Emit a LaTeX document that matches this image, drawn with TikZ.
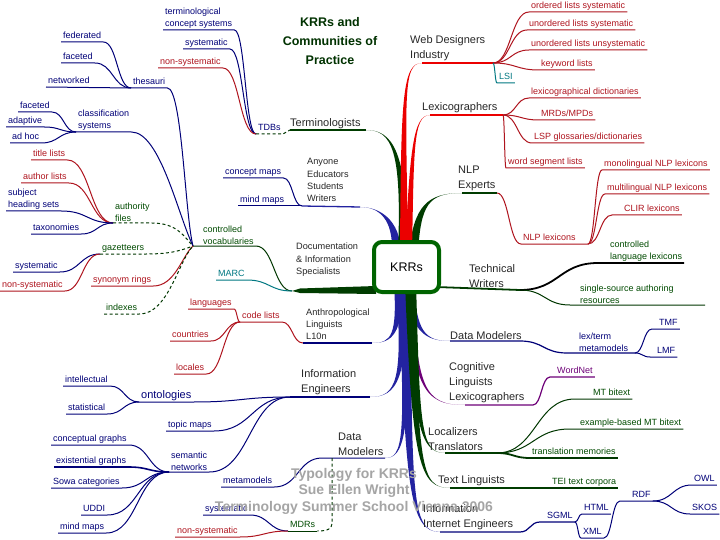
\documentclass[tikz,border=0pt]{standalone}
\usepackage{fontspec}
\setmainfont{Liberation Sans}
\usetikzlibrary{calc}
\definecolor{navyc}{RGB}{0,0,120}
\definecolor{redc}{RGB}{175,20,30}
\definecolor{greenc}{RGB}{0,75,0}
\definecolor{greenD}{RGB}{0,55,0}
\definecolor{trunkblue}{RGB}{35,35,160}
\definecolor{trunkred}{RGB}{235,0,0}
\definecolor{trunkgreen}{RGB}{0,60,0}
\definecolor{boxgreen}{RGB}{0,100,0}
\definecolor{tealc}{RGB}{0,120,130}
\definecolor{purplec}{RGB}{110,0,120}
\definecolor{txtgray}{RGB}{40,40,40}
\definecolor{titlec}{RGB}{0,50,0}
\definecolor{wmc}{RGB}{165,165,165}
\newcommand{\taperb}[7]{\fill[#1] (#2) .. controls (#3) and (#4) .. (#5) .. controls (#4) and ($(#3)+(#7)$) .. ($(#2)+(#6)$) -- cycle;}
\tikzset{
  lb/.style={anchor=south west, inner xsep=2pt, inner ysep=1.2pt, font=\fontsize{9}{12.5}\selectfont, text depth=2pt},
  mlb/.style={anchor=south west, inner xsep=2pt, inner ysep=1.2pt, font=\fontsize{9}{12.5}\selectfont, align=left},
  bg/.style={anchor=south west, inner xsep=0pt, inner ysep=1.5pt, font=\fontsize{11}{15}\selectfont, text=txtgray, align=left},
  md/.style={inner sep=0pt, font=\fontsize{9.2}{12.3}\selectfont, text=txtgray, align=left},
  nl/.style={draw=navyc, line width=1pt},
  rl/.style={draw=redc, line width=1pt},
  gl/.style={draw=greenD, line width=1pt},
  dl/.style={draw=greenD, line width=1pt, dash pattern=on 3pt off 2.5pt},
  sc/.style={to path={let \p1=(\tikztostart), \p2=(\tikztotarget) in .. controls ({0.5*\x1+0.5*\x2},\y1) and ({0.5*\x1+0.5*\x2},\y2) .. (\tikztotarget) \tikztonodes}},
}
\begin{document}
\begin{tikzpicture}[x=1pt,y=-1pt]
\fill[white] (0,0) rectangle (720,540);
\useasboundingbox (0,0) rectangle (720,540);
% trunk end coordinates
\coordinate (webE) at (422,63);
\coordinate (lexE) at (430,115);
\coordinate (nlpE) at (462,193);
\coordinate (termE) at (366,130);
\coordinate (anyE) at (360,207);
\coordinate (anthE) at (372,343);
\coordinate (ieE) at (370,397);
\coordinate (dmlE) at (385,458);
\coordinate (dmrE) at (450,341);
\coordinate (cogE) at (465,405);
\coordinate (loczE) at (445,453);
\coordinate (tlE) at (450,488);
\coordinate (iieE) at (440,532);
% junctions
\coordinate (cvj) at (193,246);
\coordinate (docj) at (292,291);
\coordinate (anyj) at (302,206);
\coordinate (anthj) at (303,343);
\coordinate (iej) at (290,397);
\coordinate (dmlj) at (322,458);
\coordinate (mdrtop) at (332,458);
\coordinate (webJ) at (493,63);
\coordinate (lexJ) at (503,115);
\coordinate (nlpJ) at (497,193);
\coordinate (nlplJ) at (588,244);
\coordinate (clirL) at (612,215);
\coordinate (twS) at (436,287);
\coordinate (twJ) at (520,290);
\coordinate (cllL) at (598,263);
\coordinate (cllE) at (684,263);
\coordinate (ssaL) at (570,305);
\coordinate (ssaE) at (705,305);
\coordinate (dmrJ) at (520,341);
\coordinate (ltL) at (567,353);
\coordinate (ltE) at (635,353);
\coordinate (tmfL) at (652,329);
\coordinate (lmfL) at (650,357);
\coordinate (cogJ) at (533,405);
\coordinate (wnL) at (550,377);
\coordinate (loczJ) at (497,453);
\coordinate (mtbL) at (575,399);
\coordinate (ebmL) at (570,429);
\coordinate (tlJ) at (540,488);
\coordinate (iieJ) at (520,532);
\coordinate (sgmlL) at (540,522);
\coordinate (rdfL) at (620,501);
% trunk
\taperb{trunkblue}{392,252}{393,220}{380,207}{anyE}{9,0}{7,0}
\taperb{trunkgreen}{398,252}{402,150}{392,130}{termE}{9,0}{6,0}
\taperb{trunkgreen}{409,252}{414,205}{428,193}{nlpE}{9,0}{7,0}
\taperb{trunkred}{400,252}{401,100}{402,63}{webE}{8,0}{5,0}
\taperb{trunkred}{405,252}{410,150}{413,115}{lexE}{7,0}{4,0}
\taperb{trunkblue}{399,282}{405,490}{410,532}{iieE}{11,0}{8,0}
\taperb{trunkblue}{398,282}{406,440}{403,458}{dmlE}{9,0}{6,0}
\taperb{trunkblue}{396,282}{403,380}{397,397}{ieE}{9,0}{6,0}
\taperb{trunkblue}{394,282}{397,335}{392,343}{anthE}{9,0}{6,0}
\taperb{trunkblue}{405,282}{410,332}{425,341}{dmrE}{9,0}{6,0}
\taperb{purplec}{407,282}{412,390}{425,405}{cogE}{6,0}{4,0}
\taperb{trunkgreen}{405,282}{412,465}{420,488}{tlE}{9,0}{7,0}
\taperb{trunkgreen}{407,282}{413,425}{420,453}{loczE}{9,0}{7,0}
\fill[trunkgreen] (376,286) -- (300,288.5) -- (docj) -- (300,293) -- (376,294) -- cycle;
\draw[draw=trunkgreen, line width=1.8pt] (twS) -- (twJ);
% central box
\node[draw=boxgreen, line width=4pt, rounded corners=8pt, fill=white, minimum width=65pt, minimum height=50pt, font=\fontsize{12.5}{15}\selectfont, text=black] (krr) at (406.5,267) {KRRs};
% ---------- labels left
\node[mlb,text=navyc] (tcs) at (163,30) {terminological\\concept systems};
\node[lb,text=navyc] (sys1) at (183,49) {systematic};
\node[lb,text=redc] (nsys1) at (158,68) {non-systematic};
\node[lb,text=navyc] (tdbs) at (256,134) {TDBs};
\node[bg] (term) at (290,130) {Terminologists};
\node[lb,text=navyc] (fed) at (61,42) {federated};
\node[lb,text=navyc] (fac1) at (61,63) {faceted};
\node[lb,text=navyc] (net) at (46,87) {networked};
\node[lb,text=navyc] (thes) at (131,88) {thesauri};
\node[lb,text=navyc] (fac2) at (18,112) {faceted};
\node[lb,text=navyc] (ada) at (6,127) {adaptive};
\node[lb,text=navyc] (adh) at (10,143) {ad hoc};
\node[mlb,text=navyc] (cls) at (76,132) {classification\\systems};
\node[lb,text=redc] (til) at (31,160) {title lists};
\node[lb,text=redc] (aut) at (21,183) {author lists};
\node[mlb,text=navyc] (shs) at (6,211) {subject\\heading sets};
\node[lb,text=navyc] (tax) at (31,234) {taxonomies};
\node[mlb,text=greenc] (auth) at (113,223) {authority\\files};
\node[mlb,text=greenc] (cv) at (201,246) {controlled\\vocabularies};
\node[lb,text=greenc] (gaz) at (100,254) {gazetteers};
\node[lb,text=navyc] (sys2) at (13,272) {systematic};
\node[lb,text=redc] (nsys2) at (0,291) {non-systematic};
\node[lb,text=redc] (syn) at (91,286) {synonym rings};
\node[lb,text=greenc] (idx) at (104,314) {indexes};
\node[lb,text=tealc] (marc) at (216,280) {MARC};
\node[lb,text=navyc] (cm) at (223,178) {concept maps};
\node[lb,text=navyc] (mm1) at (238,206) {mind maps};
\node[md,anchor=south west] (any) at (307,202) {Anyone\\Educators\\Students\\Writers};
\node[md,anchor=north west] (doc) at (296,243) {Documentation\\\& Information\\Specialists};
\node[lb,text=redc] (lang) at (188,309) {languages};
\node[lb,text=redc] (ctry) at (170,341) {countries};
\node[lb,text=redc] (loc) at (174,374) {locales};
\node[lb,text=redc] (code) at (240,322) {code lists};
\node[md,anchor=south west] (anth) at (306,340) {Anthropological\\Linguists\\L10n};
\node[lb,text=navyc] (int) at (63,386) {intellectual};
\node[lb,text=navyc] (stat) at (66,414) {statistical};
\node[lb,text=navyc,font=\fontsize{11}{13}\selectfont] (ont) at (139,402) {ontologies};
\node[bg] (ie) at (301,396) {Information\\Engineers};
\node[lb,text=navyc] (top) at (166,431) {topic maps};
\node[mlb,text=navyc] (sem) at (169,472) {semantic\\networks};
\node[lb,text=navyc] (cg) at (51,445) {conceptual graphs};
\node[lb,text=navyc] (eg) at (54,467) {existential graphs};
\node[lb,text=navyc] (sowa) at (51,488) {Sowa categories};
\node[lb,text=navyc] (uddi) at (81,515) {UDDI};
\node[lb,text=navyc] (mm2) at (58,533) {mind maps};
\node[lb,text=navyc] (meta) at (221,487) {metamodels};
\node[bg] (dml) at (338,457) {Data\\Modelers};
\node[lb,text=greenc] (mdr) at (288,531) {MDRs};
\node[lb,text=navyc] (sys3) at (203,515) {systematic};
\node[lb,text=redc] (nsys3) at (175,537) {non-systematic};
% ---------- labels right
\node[bg] (web) at (410,62) {Web Designers\\Industry};
\node[lb,text=redc] (ols) at (529,12) {ordered lists systematic};
\node[lb,text=redc] (uls) at (527,30) {unordered lists systematic};
\node[lb,text=redc] (ulu) at (529,50) {unordered lists unsystematic};
\node[lb,text=redc] (kw) at (539,70) {keyword lists};
\node[lb,text=tealc] (lsi) at (497,83) {LSI};
\node[bg] (lex) at (422,114) {Lexicographers};
\node[lb,text=redc] (ld) at (529,98) {lexicographical dictionaries};
\node[lb,text=redc] (mrd) at (539,120) {MRDs/MPDs};
\node[lb,text=redc] (lsp) at (532,143) {LSP glossaries/dictionaries};
\node[lb,text=redc] (wsl) at (506,168) {word segment lists};
\node[bg] (nlp) at (458,192) {NLP\\Experts};
\node[lb,text=redc] (nlpl) at (521,244) {NLP lexicons};
\node[lb,text=redc] (mono) at (602,170) {monolingual NLP lexicons};
\node[lb,text=redc] (multi) at (605,194) {multilingual NLP lexicons};
\node[lb,text=redc] (clir) at (622,215) {CLIR lexicons};
\node[bg] (tw) at (469,289) {Technical\\Writers};
\node[mlb,text=greenc] (cll) at (608,263) {controlled\\language lexicons};
\node[mlb,text=greenc] (ssa) at (578,305) {single-source authoring\\resources};
\node[bg] (dmr) at (450,341) {Data Modelers};
\node[mlb,text=navyc] (lt) at (577,353) {lex/term\\metamodels};
\node[lb,text=navyc] (tmf) at (657,329) {TMF};
\node[lb,text=navyc] (lmf) at (655,357) {LMF};
\node[bg] (cog) at (449,404) {Cognitive\\Linguists\\Lexicographers};
\node[lb,text=purplec] (wn) at (555,377) {WordNet};
\node[bg] (locz) at (428,452) {Localizers\\Translators};
\node[lb,text=greenc] (mtb) at (591,399) {MT bitext};
\node[lb,text=greenc] (ebm) at (578,429) {example-based MT bitext};
\node[lb,text=greenc] (tm) at (530,458) {translation memories};
\node[bg] (tl) at (438,487) {Text Linguists};
\node[lb,text=greenc] (tei) at (550,488) {TEI text corpora};
\node[bg] (iie) at (423,531) {Information\\Internet Engineers};
\node[lb,text=navyc] (sgml) at (545,522) {SGML};
\node[lb,text=navyc] (html) at (582,514) {HTML};
\node[lb,text=navyc] (xml) at (581,538) {XML};
\node[lb,text=navyc] (rdf) at (630,501) {RDF};
\node[lb,text=navyc] (owl) at (692,485) {OWL};
\node[lb,text=navyc] (skos) at (690,514) {SKOS};
% ---------- connectors left
\draw[nl] (tcs.south west) -- (tcs.south east) to[sc] (tdbs.south west);
\draw[nl] (sys1.south west) -- (sys1.south east) to[sc] (tdbs.south west);
\draw[rl] (nsys1.south west) -- (nsys1.south east) to[sc] (tdbs.south west);
\draw[dl] (tdbs.south west) -- (tdbs.south east) -- (term.south west);
\draw[draw=trunkgreen, line width=1.2pt] (term.south west) -- (termE);
\draw[nl] (fed.south west) -- (fed.south east) to[sc] (thes.south west);
\draw[nl] (fac1.south west) -- (fac1.south east) to[sc] (thes.south west);
\draw[nl] (net.south west) -- (thes.south west);
\draw[nl] (thes.south west) -- (thes.south east) .. controls (182,88) and (185,215) .. (cvj);
\draw[nl] (fac2.south west) -- (fac2.south east) to[sc] (cls.south west);
\draw[nl] (ada.south west) -- (ada.south east) to[sc] (cls.south west);
\draw[nl] (adh.south west) -- (adh.south east) to[sc] (cls.south west);
\draw[nl] (cls.south west) -- (cls.south east) .. controls (160,132) and (178,215) .. (cvj);
\draw[rl] (til.south west) -- (til.south east) to[sc] (auth.south west);
\draw[rl] (aut.south west) -- (aut.south east) to[sc] (auth.south west);
\draw[nl] (shs.south west) -- (shs.south east) to[sc] (auth.south west);
\draw[nl] (tax.south west) -- (tax.south east) to[sc] (auth.south west);
\draw[dl] (auth.south west) -- (auth.south east) .. controls (178,223) and (185,238) .. (cvj);
\draw[nl] (sys2.south west) -- (sys2.south east) to[sc] (gaz.south west);
\draw[rl] (nsys2.south west) -- (nsys2.south east) to[sc] (gaz.south west);
\draw[dl] (gaz.south west) -- (gaz.south east) .. controls (172,254) and (182,250) .. (cvj);
\draw[rl] (syn.south west) -- (syn.south east) .. controls (175,286) and (182,256) .. (cvj);
\draw[dl] (idx.south west) -- (idx.south east) .. controls (168,314) and (178,262) .. (cvj);
\draw[gl] (cvj) -- (cv.south east) to[sc] (docj);
\draw[draw=tealc, line width=1pt] (marc.south west) -- (marc.south east) to[sc] (docj);
\draw[nl] (cm.south west) -- (cm.south east) to[sc] (anyj);
\draw[nl] (mm1.south west) -- (anyj);
\draw[draw=trunkblue, line width=1.3pt] (anyj) -- (anyE);
\draw[rl] (lang.south west) -- (lang.south east) to[sc] (code.south west);
\draw[rl] (ctry.south west) -- (ctry.south east) to[sc] (code.south west);
\draw[rl] (loc.south west) -- (loc.south east) to[sc] (code.south west);
\draw[rl] (code.south west) -- (code.south east) to[sc] (anthj);
\draw[draw=navyc, line width=1.4pt] (anthj) -- (anthE);
\draw[nl] (int.south west) -- (int.south east) to[sc] (ont.south west);
\draw[nl] (stat.south west) -- (stat.south east) to[sc] (ont.south west);
\draw[nl] (ont.south west) -- (ont.south east) to[sc] (iej);
\draw[nl] (top.south west) -- (top.south east) to[sc] (iej);
\draw[nl] (sem.south west) -- (sem.south east) to[sc] (iej);
\draw[draw=navyc, line width=1.2pt] (iej) -- (ieE);
\draw[nl] (cg.south west) -- (cg.south east) to[sc] (sem.south west);
\draw[nl, line width=1.6pt] (eg.south west) -- (eg.south east) to[sc] (sem.south west);
\draw[nl] (sowa.south west) -- (sowa.south east) to[sc] (sem.south west);
\draw[nl] (uddi.south west) -- (uddi.south east) to[sc] (sem.south west);
\draw[nl] (mm2.south west) -- (mm2.south east) to[sc] (sem.south west);
\draw[nl] (meta.south west) -- (meta.south east) to[sc] (dmlj) -- (dmlE);
\draw[nl] (sys3.south west) -- (sys3.south east) to[sc] (mdr.south west);
\draw[rl] (nsys3.south west) -- (nsys3.south east) to[sc] (mdr.south west);
\draw[gl] (mdr.south west) -- (mdr.south east);
\draw[dl] (mdrtop) -- (332,522) .. controls (332,529) and (328,531) .. (mdr.south east);
% ---------- connectors right
\draw[draw=trunkred, line width=1.3pt] (webE) -- (webJ);
\draw[rl] (webJ) to[sc] (ols.south west) -- (ols.south east);
\draw[rl] (webJ) to[sc] (uls.south west) -- (uls.south east);
\draw[rl] (webJ) to[sc] (ulu.south west) -- (ulu.south east);
\draw[rl] (webJ) to[sc] (kw.south west) -- (kw.south east);
\draw[draw=tealc, line width=1pt] (webJ) to[sc] (lsi.south west) -- (lsi.south east);
\draw[draw=trunkred, line width=1.2pt] (lexE) -- (lexJ);
\draw[rl] (lexJ) to[sc] (ld.south west) -- (ld.south east);
\draw[rl] (lexJ) to[sc] (mrd.south west) -- (mrd.south east);
\draw[rl] (lexJ) to[sc] (lsp.south west) -- (lsp.south east);
\draw[rl] (lexJ) to[sc] (wsl.south west) -- (wsl.south east);
\draw[draw=trunkgreen, line width=2pt] (nlpE) -- (nlpJ);
\draw[rl] (nlpJ) to[sc] (nlpl.south west) -- (nlplJ);
\draw[rl] (nlplJ) to[sc] (mono.south west) -- (mono.south east);
\draw[rl] (nlplJ) to[sc] (multi.south west) -- (multi.south east);
\draw[rl] (nlplJ) to[sc] (clirL) -- (clir.south east);
\draw[draw=black, line width=1.8pt] (twJ) to[sc] (cllL) -- (cllE);
\draw[gl] (twJ) to[sc] (ssaL) -- (ssaE);
\draw[draw=navyc, line width=1.2pt] (dmrE) -- (dmrJ) to[sc] (ltL) -- (ltE);
\draw[nl] (ltE) to[sc] (tmfL) -- (tmf.south east);
\draw[nl] (ltE) to[sc] (lmfL) -- (lmf.south east);
\draw[draw=purplec, line width=1.2pt] (cogE) -- (cogJ) to[sc] (wnL) -- (wn.south east);
\draw[draw=trunkgreen, line width=1.2pt] (loczE) -- (loczJ);
\draw[gl] (loczJ) to[sc] (mtbL) -- (mtb.south east);
\draw[gl] (loczJ) to[sc] (ebmL) -- (ebm.south east);
\draw[gl, line width=1.8pt] (loczJ) to[sc] (tm.south west) -- (tm.south east);
\draw[draw=trunkgreen, line width=1.3pt] (tlE) -- (tlJ) -- (tei.south west);
\draw[gl, line width=1.6pt] (tei.south west) -- (tei.south east);
\draw[draw=navyc, line width=1.2pt] (iieE) -- (iieJ) to[sc] (sgmlL) -- (sgml.south east);
\draw[nl] (sgml.south east) to[sc] (html.south west) -- (html.south east);
\draw[nl] (sgml.south east) to[sc] (xml.south west) -- (xml.south east) to[sc] (rdfL) -- (rdf.south east);
\draw[nl] (rdf.south east) to[sc] (owl.south west) -- (owl.south east);
\draw[nl] (rdf.south east) to[sc] (skos.south west) -- (skos.south east);
% title and watermark
\node[font=\fontsize{12.5}{19}\selectfont\bfseries, text=titlec, align=center] (title) at (330,41) {KRRs and\\Communities of\\Practice};
\node[font=\fontsize{14}{16.5}\selectfont\bfseries, text=wmc, align=center] (wm) at (354,491) {Typology for KRRs\\Sue Ellen Wright\\Terminology Summer School Vienna 2006};
\end{tikzpicture}
\end{document}
